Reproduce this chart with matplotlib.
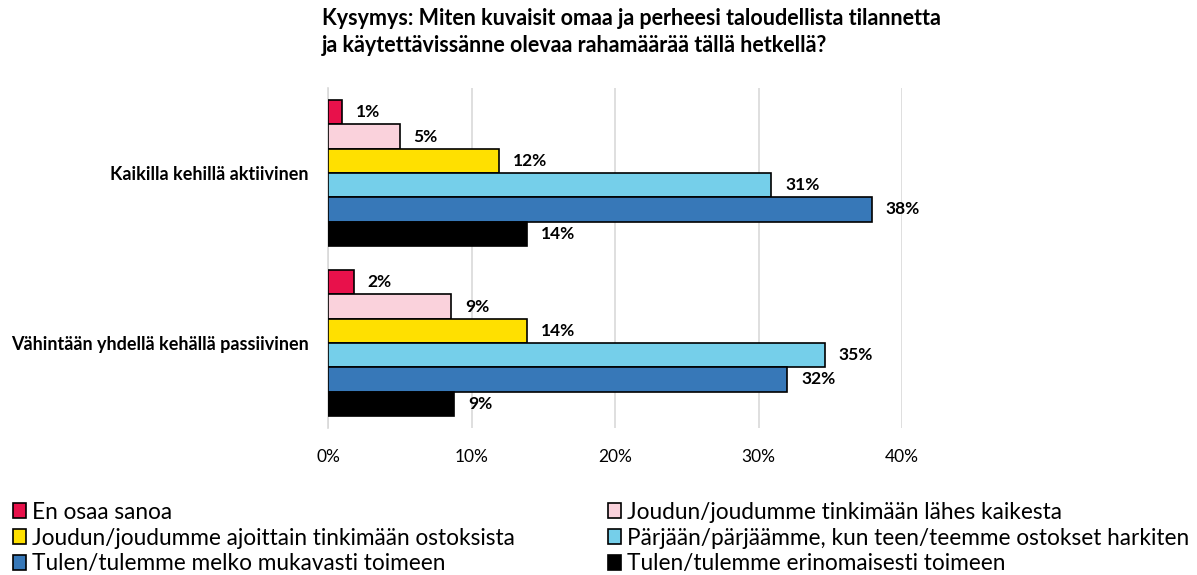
import matplotlib.pyplot as plt
import numpy as np
from matplotlib.patches import Patch

# === DADOS ===
ryhmat = ["Kaikilla kehillä aktiivinen", "Vähintään yhdellä kehällä passiivinen"]
vastaukset = [
    "En osaa sanoa",
    "Joudun/joudumme tinkimään lähes kaikesta",
    "Joudun/joudumme ajoittain tinkimään ostoksista",
    "Pärjään/pärjäämme, kun teen/teemme ostokset harkiten",
    "Tulen/tulemme melko mukavasti toimeen",
    "Tulen/tulemme erinomaisesti toimeen",
]
arvot_aktiivinen = [1.0, 5.0, 11.9, 30.9, 37.9, 13.9]
arvot_passiivinen = [1.8, 8.6, 13.9, 34.6, 32.0, 8.8]
tekstit_aktiivinen = ["1%", "5%", "12%", "31%", "38%", "14%"]
tekstit_passiivinen = ["2%", "9%", "14%", "35%", "32%", "9%"]
xtiks = [0, 10, 20, 30, 40]
xtiks_tekstit = ["0%", "10%", "20%", "30%", "40%"]

varit = ["#E8114B", "#FAD2DC", "#FFE000", "#75CFEA", "#3778B8", "#000000"]

plt.rcParams['font.family'] = ['Lato', 'DejaVu Sans']

fig = plt.figure(figsize=(11.97, 5.75), dpi=100)
ax = fig.add_axes([328 / 1197, 1 - 428 / 575, (902 - 328) / 1197, 340 / 575])

korkeus = 0.143
arvot = np.array([arvot_aktiivinen, arvot_passiivinen])
tekstit = [tekstit_aktiivinen, tekstit_passiivinen]
for i in range(len(vastaukset)):
    y = np.arange(len(ryhmat)) + (i - 2.5) * korkeus
    palkit = ax.barh(y, arvot[:, i], height=korkeus, color=varit[i],
                     edgecolor="black", linewidth=1.2, zorder=3)
    for p, t in zip(palkit, [tekstit[0][i], tekstit[1][i]]):
        ax.annotate(t, (p.get_width(), p.get_y() + p.get_height() / 2),
                    xytext=(10, 0), textcoords="offset points",
                    va="center", ha="left", fontsize=12.5, fontweight="bold")

ax.set_xlim(0, 40)
ax.set_ylim(1.5, -0.5)
ax.set_yticks(range(len(ryhmat)))
ax.set_yticklabels(ryhmat, fontsize=13, fontweight="bold")
ax.set_xticks(xtiks)
ax.set_xticklabels(xtiks_tekstit, fontsize=12.5)
ax.tick_params(length=0)
ax.tick_params(axis="y", pad=14)
ax.tick_params(axis="x", pad=15)
ax.grid(axis="x", color="#D9D9D9", linewidth=1.2, zorder=0)
for s in ["top", "right", "bottom"]:
    ax.spines[s].set_visible(False)
ax.spines["left"].set_color("#D9D9D9")
ax.spines["left"].set_linewidth(1.2)

fig.text(322 / 1197, 1 - 32 / 575,
         "Kysymys: Miten kuvaisit omaa ja perheesi taloudellista tilannetta\n"
         "ja käytettävissänne olevaa rahamäärää tällä hetkellä?",
         fontsize=15.5, fontweight="bold", ha="left", va="center",
         linespacing=1.35)

# === LEGENDA ===
kahvat = [Patch(facecolor=varit[i], edgecolor="black", linewidth=1.2,
                label=vastaukset[i]) for i in range(6)]
for j, x0 in enumerate([8 / 1197, 603 / 1197]):
    leg = fig.legend(handles=[kahvat[j], kahvat[j + 2], kahvat[j + 4]],
                     loc="upper left", bbox_to_anchor=(x0, 1 - 497 / 575),
                     frameon=False, fontsize=16.3, handlelength=0.6,
                     handleheight=0.6, handletextpad=0.25, labelspacing=0.22,
                     borderaxespad=0, borderpad=0.2)

fig.savefig("out.png", dpi=100)
